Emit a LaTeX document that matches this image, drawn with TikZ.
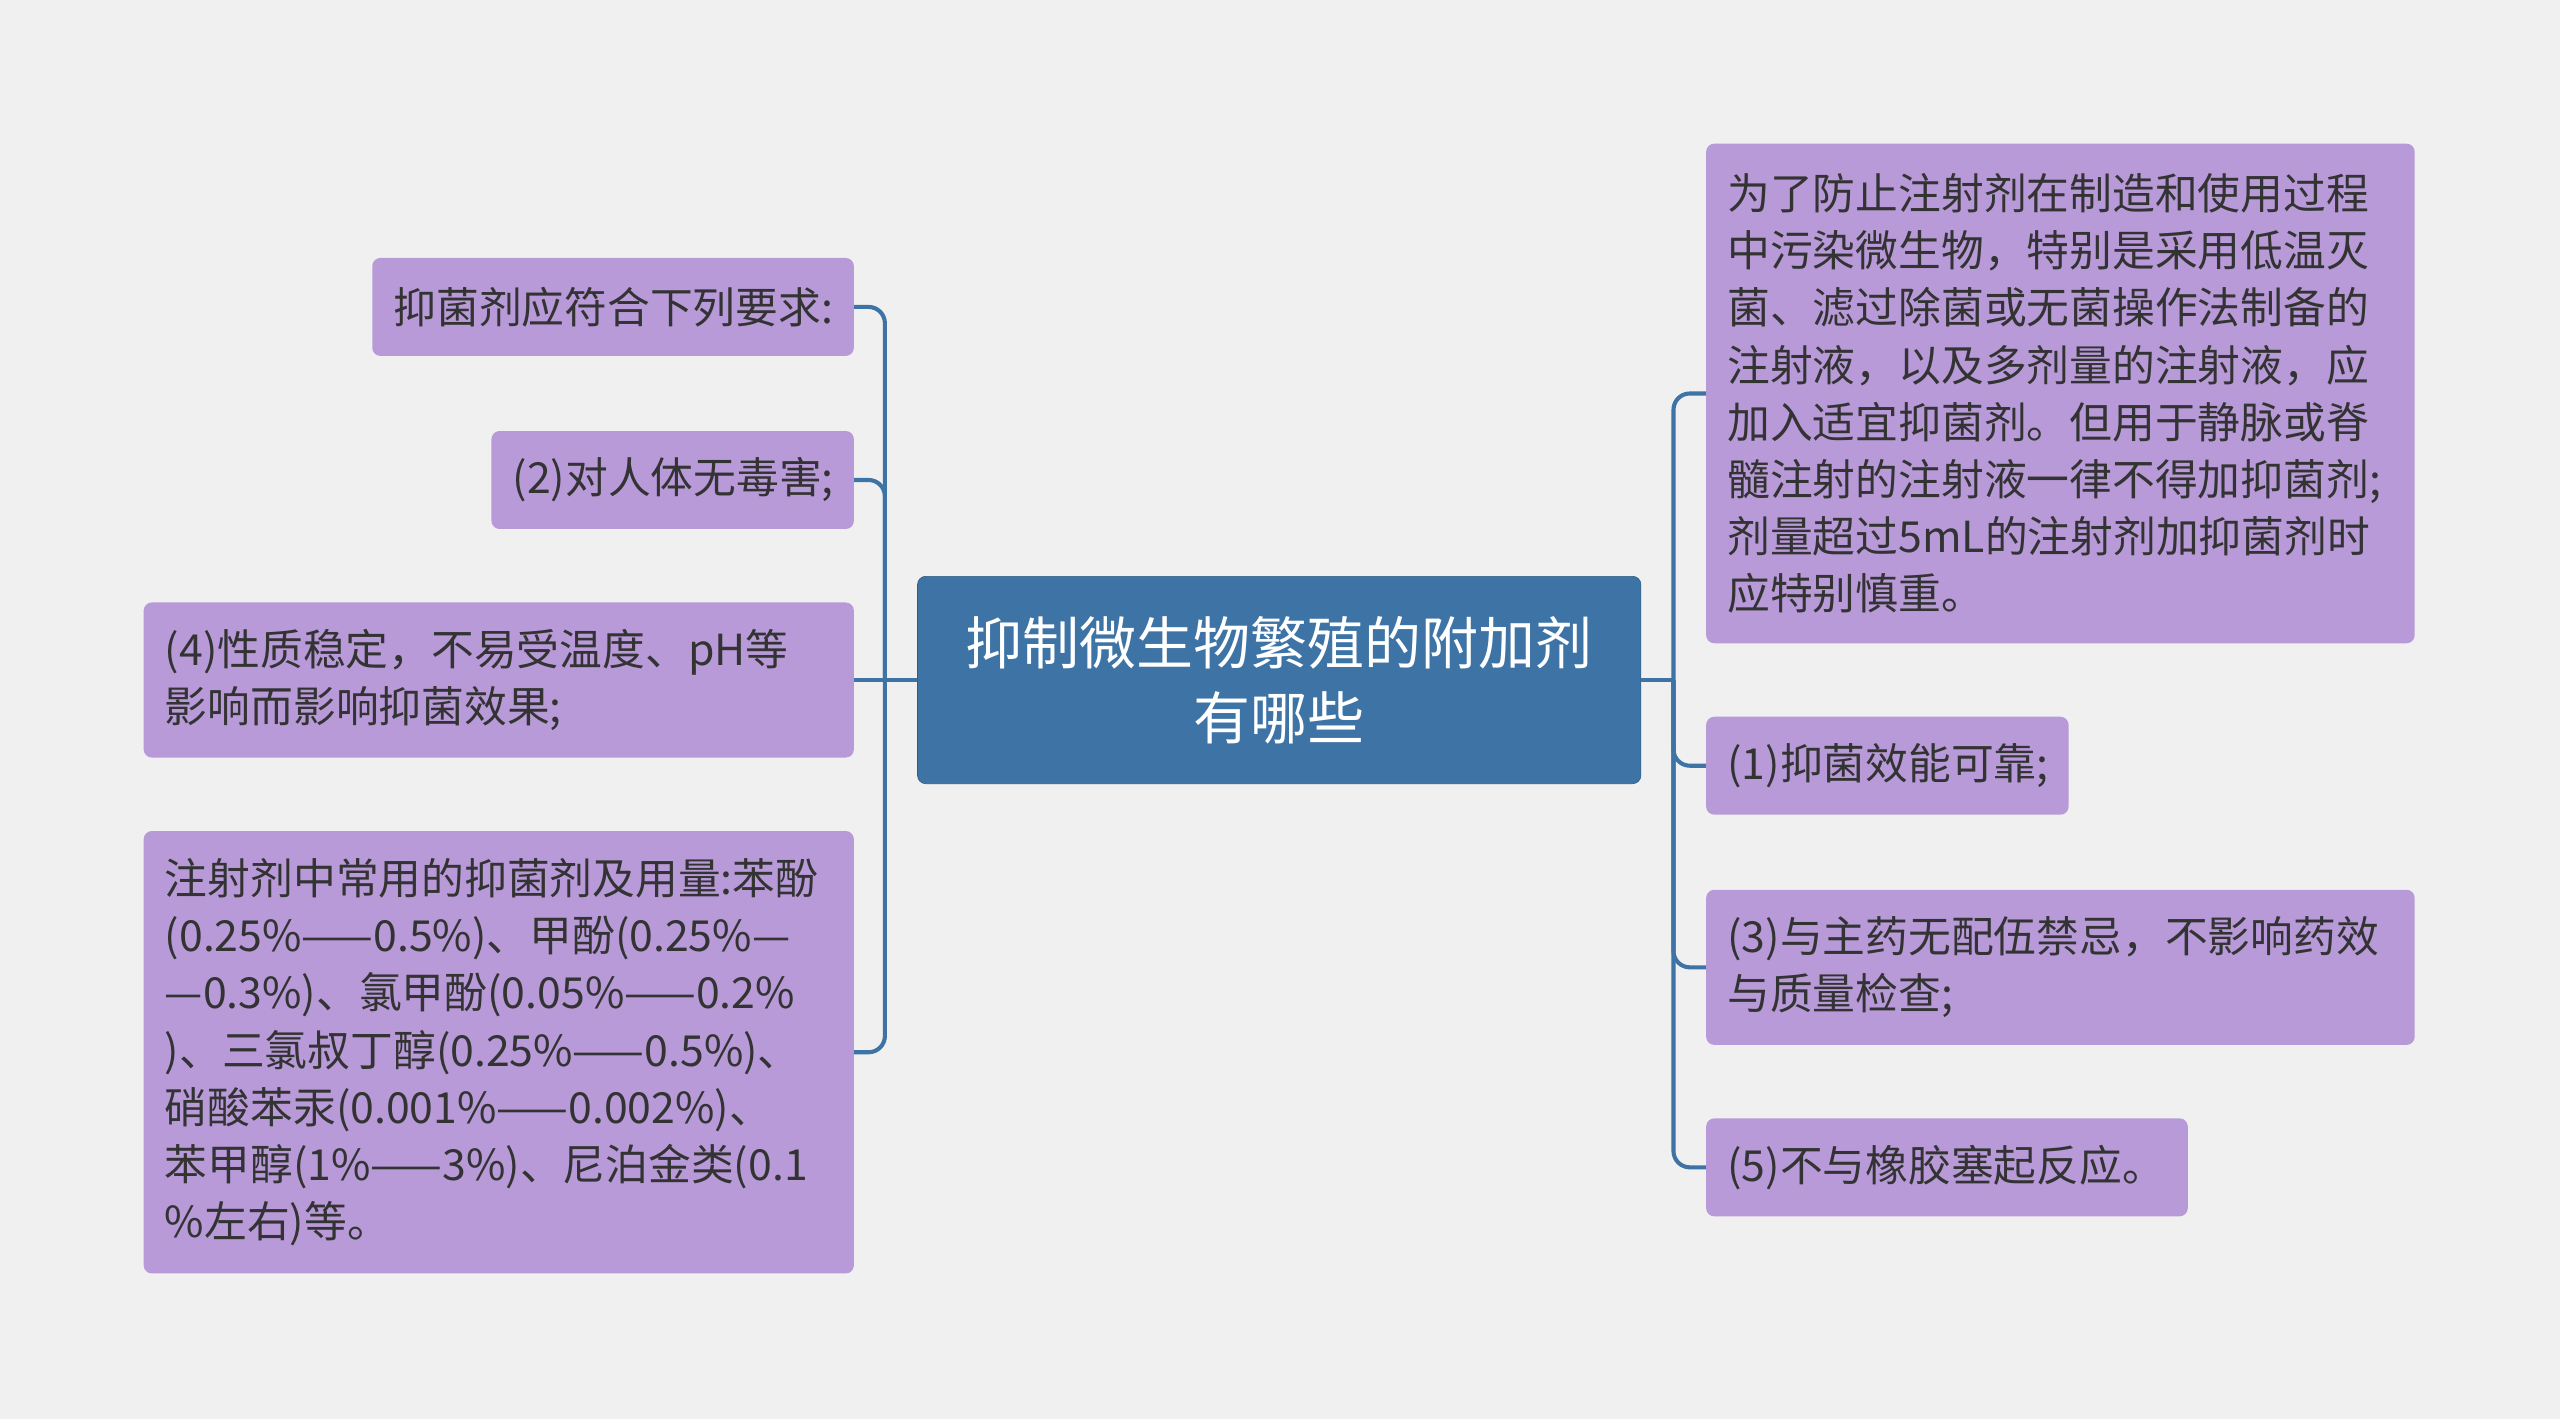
\documentclass[tikz,border=0pt]{standalone}
\usepackage{fontspec}
\setmainfont{Noto Sans CJK SC}
\definecolor{bg}{HTML}{F0F0F0}
\definecolor{cblue}{HTML}{3D73A5}
\definecolor{cpur}{HTML}{B89AD9}
\definecolor{ctext}{HTML}{333333}
\begin{document}
\begin{tikzpicture}[x=1pt,y=-1pt,
  leaf/.style={fill=cpur,rounded corners=5pt,inner xsep=13pt,inner ysep=0pt,align=left,text=ctext,
    font=\fontsize{26.2}{35}\selectfont,anchor=center},
  conn/.style={draw=cblue,line width=2.5pt,rounded corners=10pt}]
\fill[bg] (0,0) rectangle (1568,869);
\useasboundingbox (0,0) rectangle (1568,869);
\node[fill=cblue,draw=cblue!80!black,rounded corners=5pt,minimum width=443pt,minimum height=127pt,
  text=white,align=center,font=\fontsize{34.9}{46}\selectfont] (c) at (783.5,416.5) {抑制微生物繁殖的附加剂\\有哪些};
\node[leaf,minimum width=295pt,minimum height=60pt,text width=269pt] (l1) at (375.5,188) {抑菌剂应符合下列要求:};
\node[leaf,minimum width=222pt,minimum height=60pt,text width=196pt] (l2) at (412,294) {(2)对人体无毒害;};
\node[leaf,minimum width=435pt,minimum height=95pt,text width=409pt] (l3) at (305.5,416.5) {(4)性质稳定，不易受温度、pH等\\影响而影响抑菌效果;};
\node[leaf,minimum width=435pt,minimum height=271pt,text width=409pt] (l4) at (305.5,644.5) {注射剂中常用的抑菌剂及用量:苯酚\\(0.25\%——0.5\%)、甲酚(0.25\%—\\—0.3\%)、氯甲酚(0.05\%——0.2\%\\)、三氯叔丁醇(0.25\%——0.5\%)、\\硝酸苯汞(0.001\%——0.002\%)、\\苯甲醇(1\%——3\%)、尼泊金类(0.1\\\%左右)等。};
\node[leaf,minimum width=434pt,minimum height=306pt,text width=408pt] (r1) at (1262,241) {为了防止注射剂在制造和使用过程\\中污染微生物，特别是采用低温灭\\菌、滤过除菌或无菌操作法制备的\\注射液，以及多剂量的注射液，应\\加入适宜抑菌剂。但用于静脉或脊\\髓注射的注射液一律不得加抑菌剂;\\剂量超过5mL的注射剂加抑菌剂时\\应特别慎重。};
\node[leaf,minimum width=222pt,minimum height=60pt,text width=196pt] (r2) at (1156,469) {(1)抑菌效能可靠;};
\node[leaf,minimum width=434pt,minimum height=95pt,text width=408pt] (r3) at (1262,592.5) {(3)与主药无配伍禁忌，不影响药效\\与质量检查;};
\node[leaf,minimum width=295pt,minimum height=60pt,text width=269pt] (r4) at (1192.5,715) {(5)不与橡胶塞起反应。};
\coordinate (lj) at (542,416.5);
\coordinate (rj) at (1025,416.5);
\draw[conn] (c.west) -- (lj);
\draw[conn] (l1.east) -- (lj|-l1.east) -- (lj|-l4.east) -- (l4.east);
\draw[conn] (l2.east) -- (lj|-l2.east) -- (lj);
\draw[conn] (l3.east) -- (lj);
\draw[conn] (c.east) -- (rj);
\draw[conn] (r1.west) -- (rj|-r1.west) -- (rj|-r4.west) -- (r4.west);
\draw[conn] (r2.west) -- (rj|-r2.west) -- (rj);
\draw[conn] (r3.west) -- (rj|-r3.west) -- (rj);
\end{tikzpicture}
\end{document}
